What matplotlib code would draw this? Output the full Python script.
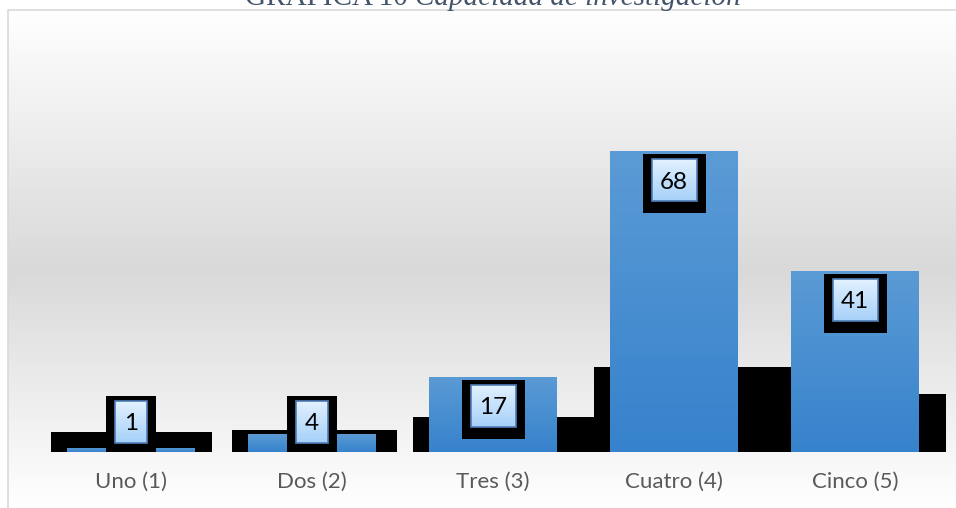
"""
GRÁFICA 10 - Capacidad de investigación
"""

import numpy as np
import matplotlib
matplotlib.use('Agg')
import matplotlib.pyplot as plt
from matplotlib.colors import LinearSegmentedColormap
from matplotlib.patches import Rectangle

matplotlib.rcParams['font.family'] = ['Lato', 'DejaVu Sans']

# datos
categories = ['Uno (1)', 'Dos (2)', 'Tres (3)', 'Cuatro (4)', 'Cinco (5)']
values = [1, 4, 17, 68, 41]

title_main = 'GRÁFICA 10 '
title_italic = 'Capacidad de investigación'

W, H = 956, 508
fig = plt.figure(figsize=(W / 100, H / 100), dpi=100)

# fondo degradado (blanco - gris - blanco) y marco
bg = fig.add_axes([0, 0, 1, 1])
bg.set_xlim(0, W)
bg.set_ylim(H, 0)
bg.axis('off')
rows = np.linspace(10, H, 400)
shade = np.interp(rows, [10, 270, H], [255, 217, 255]) / 255.0
grad = np.repeat(shade.reshape(-1, 1, 1), 3, axis=2)
bg.imshow(grad, extent=(8, W, H, 10), aspect='auto', interpolation='bilinear', zorder=0)
bg.plot([8, 8, W], [H, 10, 10], color='#D9D9D9', lw=1.2, zorder=1)
bg.set_xlim(0, W)
bg.set_ylim(H, 0)

# titulo (cortado arriba, como en el original)
t1 = bg.text(245, 5, title_main, fontsize=21, color='#44546A', family='Liberation Serif',
             ha='left', va='baseline')
fig.canvas.draw()
ext = t1.get_window_extent()
bg.text(ext.x1, 5, title_italic, fontsize=21, color='#44546A', family='Liberation Serif',
        style='italic', ha='left', va='baseline')

# area de trazado
ax = fig.add_axes([40.5 / W, 56 / H, 905 / W, 354 / H])
ax.patch.set_visible(False)
for s in ax.spines.values():
    s.set_visible(False)
ax.set_xlim(-0.5, 4.5)
ax.set_ylim(0, 80)
px_x = 905 / 5.0
px_y = 354 / 80.0

x = np.arange(len(categories))
bar_w = 128 / px_x

# sombras negras detras de las barras
shadow_left = 16 / px_x
shadow_right = [17, 21, 40, 60, 29]
for xi, v, sr in zip(x, values, shadow_right):
    sh = 4.2 + 0.22 * v
    ax.add_patch(Rectangle((xi - bar_w / 2 - shadow_left, -0.35), bar_w + shadow_left + sr / px_x,
                           sh + 0.35, facecolor='black', edgecolor='none', zorder=1))

# barras con degradado azul
bar_cmap = LinearSegmentedColormap.from_list('barra', ['#3682CC', '#5B9BD5'])
bars = ax.bar(x, values, width=bar_w, color='none', edgecolor='none', zorder=2)
g = np.linspace(0, 1, 256).reshape(-1, 1)
for b in bars:
    x0, y0, w, h = b.get_x(), b.get_y(), b.get_width(), b.get_height()
    im = ax.imshow(g, extent=(x0, x0 + w, y0, y0 + h), origin='lower', cmap=bar_cmap,
                   aspect='auto', zorder=2)
    im.set_clip_path(b)

# etiquetas de datos
lab_cmap = LinearSegmentedColormap.from_list('etiqueta', ['#A6D0F9', '#E2F1FF'])
for xi, v in zip(x, values):
    inner_w = (32 if v < 10 else 45) / px_x
    inner_h = 42 / px_y
    cy = max(30 / px_y, v - 29 / px_y)
    left, bottom = xi - inner_w / 2, cy - inner_h / 2
    ax.add_patch(Rectangle((left - 9 / px_x, bottom - 12 / px_y), inner_w + 18 / px_x,
                           inner_h + 17 / px_y, facecolor='black', edgecolor='none', zorder=3))
    ax.imshow(g, extent=(left, left + inner_w, bottom, bottom + inner_h), origin='lower',
              cmap=lab_cmap, aspect='auto', zorder=4)
    ax.add_patch(Rectangle((left, bottom), inner_w, inner_h, facecolor='none',
                           edgecolor='#4F7FB8', lw=1.2, zorder=5))
    ax.text(xi, cy, str(v), ha='center', va='center_baseline', fontsize=17.5, color='black', zorder=6)

ax.set_xlim(-0.5, 4.5)
ax.set_ylim(0, 80)
ax.set_yticks([])
ax.set_xticks(x)
ax.set_xticklabels(categories, fontsize=16, color='#595959')
ax.tick_params(axis='x', length=0, pad=14)

plt.savefig('out.png', dpi=100)
plt.close()
